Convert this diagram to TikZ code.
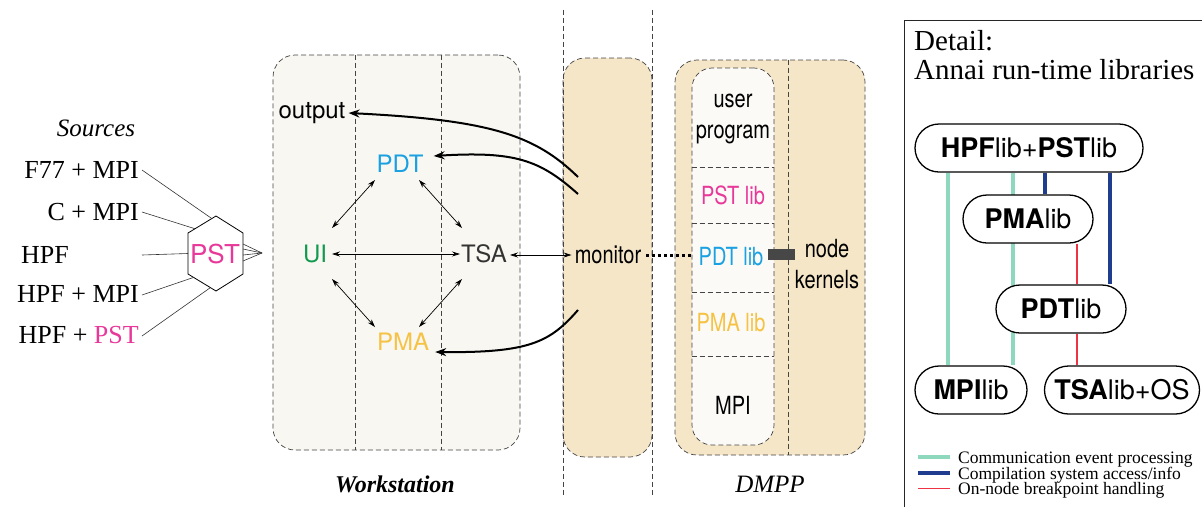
\documentclass[tikz,border=0pt]{standalone}
\usepackage{fontspec}
\setmainfont{Liberation Serif}
\newfontfamily\hv{TeX Gyre Heros}
\newfontfamily\hvn[FakeStretch=0.8]{TeX Gyre Heros}
\usetikzlibrary{arrows.meta,calc,shapes.misc,backgrounds}
\definecolor{pstc}{HTML}{E8389A}
\definecolor{pdtc}{HTML}{1BA1E2}
\definecolor{uic}{HTML}{119A4F}
\definecolor{pmac}{HTML}{F6C244}
\definecolor{tsac}{HTML}{333333}
\definecolor{beige}{HTML}{F5E6C8}
\definecolor{wsfill}{HTML}{F8F7F1}
\definecolor{colfill}{HTML}{FBFAF6}
\definecolor{commc}{HTML}{8ED8BE}
\definecolor{compc}{HTML}{203C8E}
\definecolor{brkc}{HTML}{EE3344}
\definecolor{dashc}{HTML}{444444}
\begin{document}
\begin{tikzpicture}[x=1pt,y=-1pt,
  src/.style={font=\fontsize{26}{28}\selectfont, inner sep=0pt},
  srcline/.style={line width=0.6pt, draw=black!80},
  wst/.style={font=\hv\fontsize{24}{26}\selectfont, inner sep=0pt},
  dmt/.style={font=\hvn\fontsize{25}{31}\selectfont, align=center, inner sep=0pt},
  dsh/.style={draw=dashc, line width=0.7pt, dash pattern=on 5pt off 3pt},
  region/.style={dsh, rounded corners=22pt, inner sep=0pt},
  dbl/.style={line width=0.7pt, {Stealth[length=8pt,width=5pt]}-{Stealth[length=8pt,width=5pt]}},
  thick arrow/.style={line width=2pt, -{Stealth[length=11pt,width=8pt]}},
  pill/.style={rounded rectangle, draw, line width=1.3pt, fill=white, minimum height=48pt, inner sep=0pt, font=\hv\fontsize{27}{29}\selectfont},
  comm/.style={draw=commc, line width=4pt},
  comp/.style={draw=compc, line width=4pt},
  brk/.style={draw=brkc, line width=1.8pt},
  legend/.style={font=\fontsize{17.5}{19}\selectfont, inner sep=0pt, anchor=base west}
]
\begin{scope}[on background layer]
\fill[white] (0,0) rectangle (1202,507);
\end{scope}
\useasboundingbox (0,0) rectangle (1202,507);

% ---------------- Sources ----------------
\node[src, font=\itshape\fontsize{25}{27}\selectfont] (sources) at (96,128) {Sources};
\node[src, anchor=east] (s1) at (139,170) {F77 + MPI};
\node[src, anchor=east] (s2) at (139,212) {C + MPI};
\node[src, anchor=west] (s3) at (21,255) {HPF};
\node[src, anchor=east] (s4) at (139,294) {HPF + MPI};
\node[src, anchor=east] (s5) at (139,335) {HPF + \textcolor{pstc}{PST}};

% hexagon
\coordinate (hT) at (216,216);
\coordinate (hTR) at (243,233);
\coordinate (hBR) at (243,274);
\coordinate (hB) at (216,291);
\coordinate (hBL) at (188,274);
\coordinate (hTL) at (188,233);
\draw[line width=0.8pt, fill=white] (hT) -- (hTR) -- (hBR) -- (hB) -- (hBL) -- (hTL) -- cycle;
\node[font=\hv\fontsize{26}{28}\selectfont, text=pstc, inner sep=0pt] (pst) at (215,254) {PST};

\draw[srcline] ($(s1.east)+(3,0)$) -- ($(hT)!0.15!(hTL)$);
\draw[srcline] ($(s2.east)+(3,0)$) -- ($(hTL)!0.25!(hT)$);
\draw[srcline] (142,255) -- ($(hTL)!0.5!(hBL)$);
\draw[srcline] ($(s4.east)+(3,1)$) -- ($(hBL)!0.2!(hB)$);
\draw[srcline] ($(s5.east)+(3,1)$) -- ($(hB)!0.2!(hBL)$);

\coordinate (fan) at (262,253);
\foreach \yy in {244,249,255,261}{
  \draw[srcline] (243,\yy) -- (fan);
}

% ---------------- Workstation ----------------
\node[region, fill=wsfill, minimum width=247pt, minimum height=395pt] (ws) at (396.5,252.5) {};
\draw[dsh] (355,0 |- ws.north) -- (355,0 |- ws.south);
\draw[dsh] (441,0 |- ws.north) -- (441,0 |- ws.south);

\node[wst] (output) at (312,113) {output};
\node[wst, text=pdtc] (pdt) at (400,164) {PDT};
\node[wst, text=uic] (ui) at (315,254) {UI};
\node[wst, text=tsac] (tsa) at (484,254) {TSA};
\node[wst, text=pmac] (pma) at (403,342) {PMA};

\draw[dbl] ($(pdt.center)+(-25,16)$) -- ($(ui.center)+(17,-26)$);
\draw[dbl] ($(pdt.center)+(19,16)$) -- ($(tsa.center)+(-22,-26)$);
\draw[dbl] ($(ui.center)+(17,0)$) -- ($(tsa.center)+(-24,0)$);
\draw[dbl] ($(ui.center)+(17,25)$) -- ($(pma.center)+(-28,-15)$);
\draw[dbl] ($(tsa.center)+(-22,25)$) -- ($(pma.center)+(16,-15)$);

\node[font=\bfseries\itshape\fontsize{24}{26}\selectfont, inner sep=0pt] (wslabel) at (395,484) {Workstation};

% ---------------- Monitor ----------------
\node[region, fill=beige, minimum width=89pt, minimum height=399pt] (pole) at (607.5,257.5) {};
\draw[dsh] (563,10) -- (563,497);
\draw[dsh] (652,10) -- (652,495);
\node[dmt] (monitor) at (608,255) {monitor};

\draw[dbl] ($(tsa.center)+(26,1)$) -- ($(monitor.west)+(-3,0)$);

\coordinate (c1) at (578,177);
\coordinate (c2) at (578,194);
\coordinate (c3) at (578,310);
\draw[thick arrow] (c1) .. controls (535,135) and (490,120) .. ($(output.east)+(3,0)$);
\draw[thick arrow] (c2) .. controls (540,160) and (515,151) .. ($(pdt.east)+(10,-8)$);
\draw[thick arrow] (c3) .. controls (550,342) and (530,353) .. ($(pma.east)+(6,10)$);

% ---------------- DMPP ----------------
\node[region, fill=beige, minimum width=190pt, minimum height=395pt] (dmpp) at (770,257.5) {};
\draw[dsh] (788,0 |- dmpp.north) -- (788,0 |- dmpp.south);
\node[region, rounded corners=20pt, fill=colfill, minimum width=82pt, minimum height=377pt] (col) at (733,256.5) {};
\foreach \yy in {167,223,292,356}{
  \draw[dsh] (col.west |- 0,\yy) -- (col.east |- 0,\yy);
}
\node[dmt] (user) at (733,119) {user\\program};
\node[dmt, text=pstc] (pstlib) at (733,195) {PST lib};
\node[dmt, text=pdtc] (pdtlib) at (731,257) {PDT lib};
\node[dmt, text=pmac] (pmalib) at (731,323) {PMA lib};
\node[dmt] (mpi) at (733,405) {MPI};
\node[dmt] (kern) at (827,264) {node\\kernels};
\node[fill=black!72, minimum width=27pt, minimum height=11pt, inner sep=0pt] (blk) at (781.5,254.5) {};

\draw[line width=3pt, dash pattern=on 3pt off 3pt] ($(monitor.east)+(5,0)$) -- (col.west |- monitor.east);

\node[font=\itshape\fontsize{25}{27}\selectfont, inner sep=0pt] (dmpplabel) at (770,484) {DMPP};

% ---------------- Detail panel ----------------
\draw[line width=1pt, draw=black!85] (904,507) -- (904,20) -- (1202,20);
\node[font=\fontsize{29}{31}\selectfont, inner sep=0pt, anchor=base west] (det1) at (914,50) {Detail:};
\node[font=\fontsize{29}{31}\selectfont, inner sep=0pt, anchor=base west] (det2) at (914,79) {Annai run-time libraries};

\node[pill, minimum width=228pt] (hpf) at (1029,148) {\bfseries HPF\mdseries lib+\bfseries PST\mdseries lib};
\node[pill, minimum width=130pt] (pmal) at (1028,219) {\bfseries PMA\mdseries lib};
\node[pill, minimum width=130pt] (pdtl) at (1061,309) {\bfseries PDT\mdseries lib};
\node[pill, minimum width=112pt] (mpil) at (971,390) {\bfseries MPI\mdseries lib};
\node[pill, minimum width=155pt] (tsal) at (1122,390) {\bfseries TSA\mdseries lib+OS};

\coordinate (xa) at (948,0);
\coordinate (xb) at (1013,0);
\coordinate (xc) at (1045,0);
\coordinate (xd) at (1077,0);
\coordinate (xe) at (1110,0);
\begin{scope}[on background layer]
\draw[comm] (hpf.south -| xa) -- (mpil.north -| xa);
\draw[comm] (hpf.south -| xb) -- (mpil.north -| xb);
\draw[comp] (hpf.south -| xc) -- (pmal.north -| xc);
\draw[comp] (hpf.south -| xe) -- (pdtl.north -| xe);
\draw[brk] (pmal.south -| xd) -- (pdtl.north -| xd);
\draw[brk] (pdtl.south -| xd) -- (tsal.north -| xd);
\end{scope}

\node[legend] (lg1) at (958,463) {Communication event processing};
\node[legend] (lg2) at (958,479) {Compilation system access/info};
\node[legend] (lg3) at (958,494.5) {On-node breakpoint handling};
\draw[comm] ($(lg1.base west)+(-40,-6)$) -- ($(lg1.base west)+(-8,-6)$);
\draw[comp] ($(lg2.base west)+(-40,-6)$) -- ($(lg2.base west)+(-8,-6)$);
\draw[brk] ($(lg3.base west)+(-40,-6)$) -- ($(lg3.base west)+(-8,-6)$);
\end{tikzpicture}
\end{document}
